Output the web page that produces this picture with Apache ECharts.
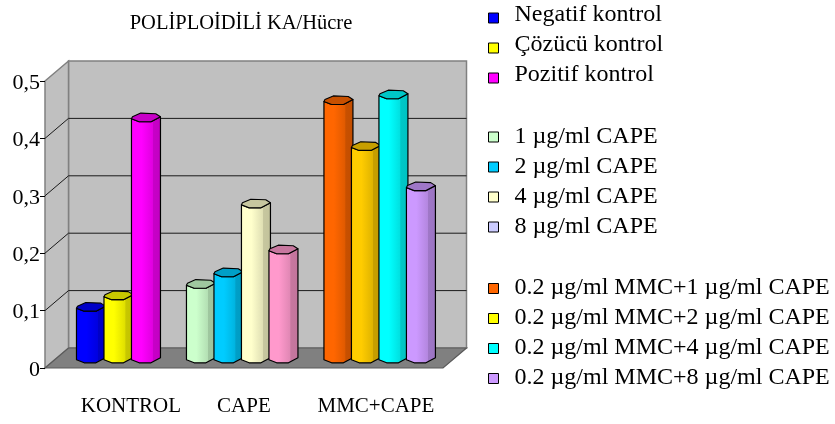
<!DOCTYPE html>
<html>
<head>
<meta charset="utf-8">
<style>html,body{margin:0;padding:0;background:#fff}#chart{width:835px;height:424px}</style>
<script src="https://cdn.jsdelivr.net/npm/echarts@6/dist/echarts.min.js"></script>
</head>
<body>
<div id="chart"></div>
<script>
// Values per group
const controlNames = ['Negatif kontrol', 'Çözücü kontrol', 'Pozitif kontrol'];
const controlValues = [0.09, 0.11, 0.42];
const controlBarColors = ['#0000FF', '#FFFF00', '#FF00FF'];
const controlKeyColors = ['#0000FF', '#FFFF00', '#FF00FF'];

const capeNames = ['1 µg/ml CAPE', '2 µg/ml CAPE', '4 µg/ml CAPE', '8 µg/ml CAPE'];
const capeValues = [0.13, 0.15, 0.27, 0.19];
const capeBarColors = ['#CCFFCC', '#00CCFF', '#FFFFCC', '#FF99CC'];
const capeKeyColors = ['#CCFFCC', '#00CCFF', '#FFFFCC', '#CCCCFF'];

const mixNames = ['0.2 µg/ml MMC+1 µg/ml CAPE', '0.2 µg/ml MMC+2 µg/ml CAPE', '0.2 µg/ml MMC+4 µg/ml CAPE', '0.2 µg/ml MMC+8 µg/ml CAPE'];
const mixValues = [0.45, 0.37, 0.46, 0.30];
const mixBarColors = ['#FF6600', '#FFCC00', '#00FFFF', '#CC99FF'];
const mixKeyColors = ['#FF6600', '#FFFF00', '#00FFFF', '#CC99FF'];

const groupLabels = ['KONTROL', 'CAPE', 'MMC+CAPE'];
const yTicks = [0, 0.1, 0.2, 0.3, 0.4, 0.5];
const titleText = 'POLİPLOİDİLİ KA/Hücre';

// Layout of the pseudo-3D box, in pixels
const SERIF = '"Liberation Serif", "Times New Roman", serif';
const DEPTH_X = 23.5, DEPTH_Y = -20;
const BAR_SHIFT_X = 11.75, BAR_SHIFT_Y = -9.5;
const X_MIN = -1.245, X_MAX = 13.23;
const GROUP_LABEL_AT = [1.88, 5.99, 10.79];

// Ring of the cylinder's cap, relative to its centre
const CAP = [[-14.5, 1.3], [-6.8, 4.3], [5, 4.3], [14.5, -0.7], [9.8, -3.7], [-5.2, -4.3], [-13.5, -0.7]];

function shade(hex, k) {
  const n = parseInt(hex.slice(1), 16);
  const c = [n >> 16 & 255, n >> 8 & 255, n & 255].map(v => Math.round(v * k));
  return 'rgb(' + c.join(',') + ')';
}

function renderFrame(params, api) {
  const bl = api.coord([X_MIN, 0]);
  const br = api.coord([X_MAX, 0]);
  const tl = api.coord([X_MIN, 0.5]);
  const back = p => [p[0] + DEPTH_X, p[1] + DEPTH_Y];
  const wallStroke = { stroke: '#808080', lineWidth: 1.5 };
  const children = [
    { type: 'polygon', shape: { points: [back(tl), [br[0] + DEPTH_X, tl[1] + DEPTH_Y], back(br), back(bl)] },
      style: { fill: '#C0C0C0', ...wallStroke } },
    { type: 'polygon', shape: { points: [tl, back(tl), back(bl), bl] },
      style: { fill: '#C0C0C0', ...wallStroke } }
  ];
  yTicks.slice(1, -1).forEach(v => {
    const p = api.coord([X_MIN, v]);
    const q = back(p);
    children.push({ type: 'polyline', shape: { points: [p, q, [br[0] + DEPTH_X, q[1]]] },
      style: { fill: null, stroke: '#1a1a1a', lineWidth: 1 } });
  });
  children.push({ type: 'polygon', shape: { points: [bl, br, back(br), back(bl)] },
    style: { fill: '#808080', stroke: '#5a5a5a', lineWidth: 1.2 } });
  return { type: 'group', children };
}

function cylinderRenderer(color) {
  return function (params, api) {
    const slot = api.value(0);
    const top = api.coord([slot, api.value(1)]);
    const base = api.coord([slot, 0]);
    const cx = top[0] + BAR_SHIFT_X;
    const ty = top[1] + BAR_SHIFT_Y;
    const by = base[1] + BAR_SHIFT_Y;
    const at = (pt, y) => [cx + pt[0], y + pt[1]];
    const body = [at(CAP[0], ty), at(CAP[0], by), at(CAP[1], by), at(CAP[2], by), at(CAP[3], by), at(CAP[3], ty), at(CAP[2], ty), at(CAP[1], ty)];
    const fill = new echarts.graphic.LinearGradient(0, 0, 1, 0, [
      { offset: 0, color: shade(color, 1) },
      { offset: 0.35, color: shade(color, 1) },
      { offset: 0.72, color: shade(color, 0.88) },
      { offset: 0.74, color: shade(color, 0.78) },
      { offset: 1, color: shade(color, 0.76) }
    ]);
    return {
      type: 'group',
      children: [
        { type: 'polygon', shape: { points: body },
          style: { fill, stroke: '#000', lineWidth: 1.2, lineJoin: 'round' } },
        { type: 'polygon', shape: { points: CAP.map(pt => at(pt, ty)) },
          style: { fill: shade(color, 0.78), stroke: '#000', lineWidth: 1.1, lineJoin: 'round' } }
      ]
    };
  };
}

// Bars occupy consecutive slots, with an empty slot between groups
const bars = [];
function addGroup(names, values, colors, startSlot) {
  names.forEach((name, i) => {
    bars.push({
      name, type: 'custom', coordinateSystem: 'cartesian2d', clip: false, z: 5 + bars.length,
      renderItem: cylinderRenderer(colors[i]),
      itemStyle: { color: colors[i] },
      encode: { x: 0, y: 1 },
      data: [[startSlot + i, values[i]]]
    });
  });
}
addGroup(controlNames, controlValues, controlBarColors, 0);
addGroup(capeNames, capeValues, capeBarColors, 4);
addGroup(mixNames, mixValues, mixBarColors, 9);

// Key blocks share a 30px row pitch; raise lifts the text above its swatch
function key(names, colors, top, raise) {
  return {
    orient: 'vertical', left: 483, top, icon: 'rect', itemWidth: 10, itemHeight: 10,
    itemGap: -raise * 2,
    selectedMode: false,
    formatter: name => '{t|' + name + '}',
    textStyle: {
      fontFamily: SERIF, fontSize: 24, color: '#000', padding: [0, 0, 0, 11],
      rich: {
        t: { fontFamily: SERIF, fontSize: 24, color: '#000', lineHeight: 30, height: 30,
             verticalAlign: 'middle', padding: [0, 0, raise * 2, 0] }
      }
    },
    data: names.map((name, i) => ({
      name, itemStyle: { color: colors[i], borderColor: '#000', borderWidth: 1 }
    }))
  };
}

const chart = echarts.init(document.getElementById('chart'), null, { renderer: 'canvas' });
chart.setOption({
  animation: false,
  backgroundColor: '#fff',
  title: {
    text: titleText, left: 236, top: 8, textAlign: 'center',
    textStyle: { fontFamily: SERIF, fontSize: 20.5, fontWeight: 'normal', color: '#000' }
  },
  legend: [
    key(controlNames, controlKeyColors, -5, 3),
    key(capeNames, capeKeyColors, 116.5, 0.5),
    key(mixNames, mixKeyColors, 268, 0.5)
  ],
  grid: { left: 45, top: 81, width: 398, height: 287 },
  xAxis: {
    type: 'value', min: X_MIN, max: X_MAX,
    axisLine: { show: false, onZero: false }, axisTick: { show: false }, splitLine: { show: false },
    axisLabel: {
      customValues: GROUP_LABEL_AT,
      formatter: v => groupLabels[GROUP_LABEL_AT.indexOf(v)],
      fontFamily: SERIF, fontSize: 21, color: '#000', margin: 28
    }
  },
  yAxis: {
    type: 'value', min: 0, max: 0.5, interval: 0.1, z: 10,
    axisLine: { show: false, onZero: false },
    axisTick: { show: true, length: 5, lineStyle: { color: '#000', width: 1 } },
    splitLine: { show: false },
    axisLabel: {
      formatter: v => '{t|' + String(Math.round(v * 10) / 10).replace('.', ',') + '}',
      fontFamily: SERIF, fontSize: 22, color: '#000', margin: 5,
      rich: { t: { fontFamily: SERIF, fontSize: 22, color: '#000', padding: [4, 0, 0, 0] } }
    }
  },
  series: [
    { type: 'custom', name: 'frame', silent: true, clip: false, z: 1,
      renderItem: renderFrame, encode: { x: 0, y: 1 }, data: [[0, 0]] },
    ...bars
  ]
});
</script>
</body>
</html>
